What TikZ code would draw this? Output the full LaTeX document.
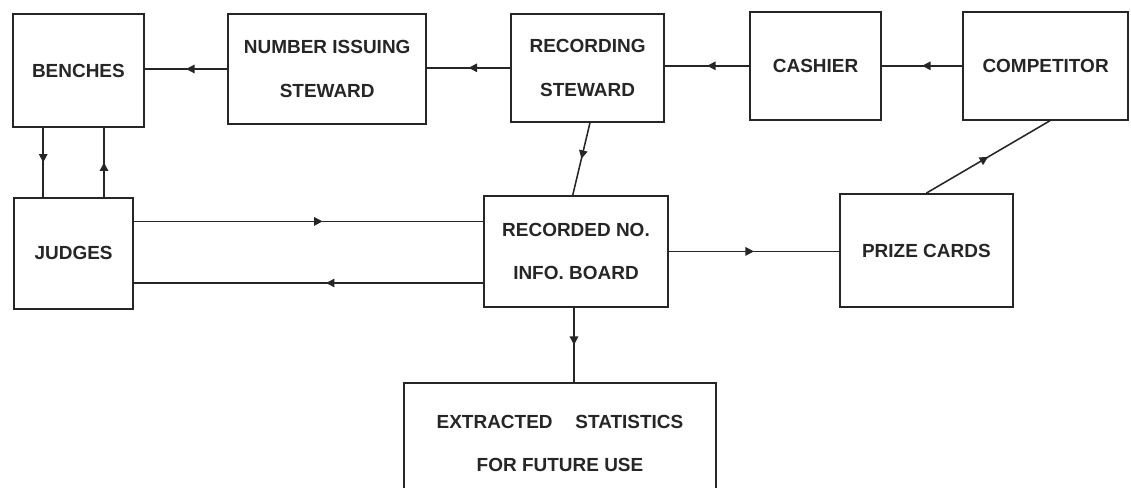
\documentclass[tikz,border=0pt]{standalone}
\usepackage{fontspec}
\setmainfont{Liberation Sans}
\usetikzlibrary{arrows.meta,decorations.markings}

\begin{document}
\begin{tikzpicture}[
  box/.style={draw, line width=1.3pt, align=center, inner sep=0pt,
    font=\fontsize{13.5}{31}\selectfont\bfseries},
  midarrow/.style={postaction={decorate}, decoration={markings,
    mark=at position #1 with {\arrow{Triangle[width=6pt,length=6pt]}}}},
  midarrow/.default=0.5,
  line width=1.1pt, black!85]

\useasboundingbox (0,0) rectangle (28.275,12.175);

\node[box, minimum width=3.28cm, minimum height=2.83cm] (benches) at (1.96,10.41) {BENCHES};
\node[box, minimum width=4.95cm, minimum height=2.75cm] (number) at (8.18,10.45) {NUMBER ISSUING\\STEWARD};
\node[box, minimum width=3.83cm, minimum height=2.7cm] (recst) at (14.69,10.48) {RECORDING\\STEWARD};
\node[box, minimum width=3.28cm, minimum height=2.7cm] (cashier) at (20.39,10.53) {CASHIER};
\node[box, minimum width=4.13cm, minimum height=2.7cm] (comp) at (26.14,10.53) {COMPETITOR};

\node[box, minimum width=2.98cm, minimum height=2.78cm] (judges) at (1.84,5.84) {JUDGES};
\node[box, minimum width=4.6cm, minimum height=2.78cm] (recno) at (14.4,5.89) {RECORDED NO.\\INFO.\ BOARD};
\node[box, minimum width=4.33cm, minimum height=2.83cm] (prize) at (23.16,5.91) {PRIZE CARDS};

\node[box, minimum width=7.8cm, minimum height=3.03cm] (stats) at (14.0,1.09) {EXTRACTED\hspace{1.2em}STATISTICS\\FOR FUTURE USE};

\draw[midarrow] (comp.west) -- (comp.west -| cashier.east);
\draw[midarrow] (cashier.west) -- (cashier.west -| recst.east);
\draw[midarrow] (recst.west) -- (recst.west -| number.east);
\draw[midarrow] (number.west) -- (number.west -| benches.east);

\draw[midarrow] ([xshift=-0.76cm]judges.north |- benches.south) -- ([xshift=-0.76cm]judges.north);
\draw[midarrow] ([xshift=0.76cm]judges.north) -- ([xshift=0.76cm]judges.north |- benches.south);

\draw[midarrow=0.54] ([yshift=0.8cm]judges.east) -- ([yshift=0.8cm]judges.east -| recno.west);
\draw[midarrow=0.45] ([yshift=-0.74cm]judges.east -| recno.west) -- ([yshift=-0.74cm]judges.east);

\draw[midarrow] ([xshift=0.06cm]recst.south) -- ([xshift=-0.08cm]recno.north);
\draw[midarrow] (recno.east) -- (recno.east -| prize.west);
\draw[midarrow] (prize.north) -- ([xshift=0.11cm]comp.south);
\draw[midarrow] ([xshift=-0.05cm]recno.south) -- ([xshift=-0.05cm]recno.south |- stats.north);
\end{tikzpicture}
\end{document}
